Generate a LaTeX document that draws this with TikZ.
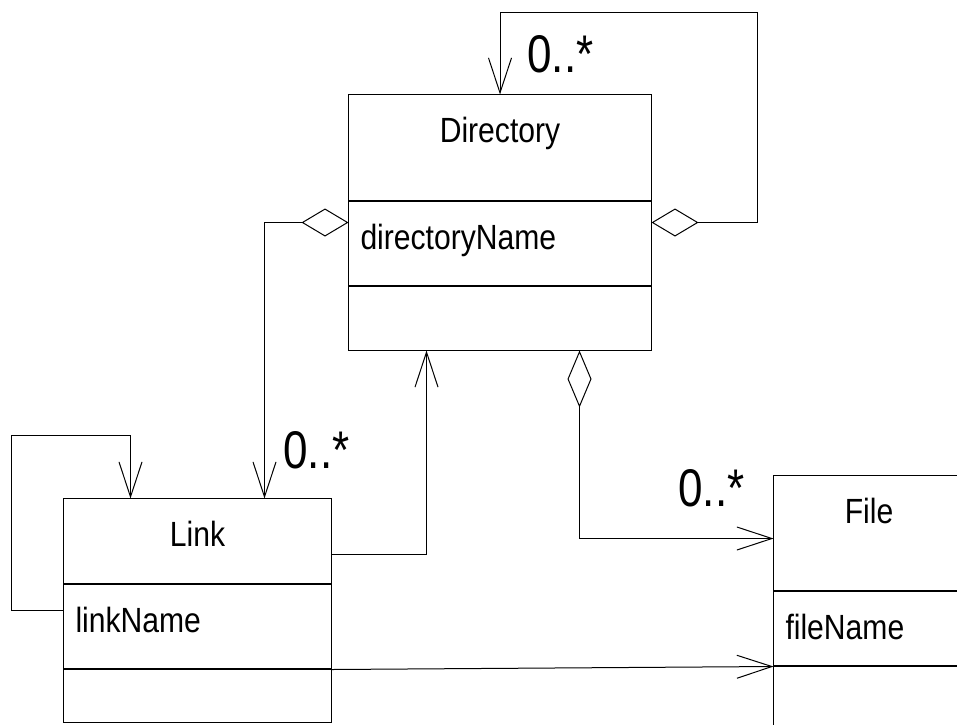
\documentclass[tikz,border=0pt]{standalone}
\usepackage{fontspec}
\setmainfont{Liberation Sans}[FakeStretch=0.86]
\newfontfamily\multfont{Liberation Sans}[FakeStretch=0.83]
\usetikzlibrary{arrows.meta,matrix}
\begin{document}
\begin{tikzpicture}[
  x=1pt, y=-1pt,
  line width=1pt,
  every matrix/.style={ampersand replacement=\&,row sep=0pt,inner sep=0pt,outer sep=0pt,anchor=north west},
  compartment/.style={draw,outer sep=0pt,inner xsep=12pt,inner ysep=0pt,text height=48pt,font=\fontsize{35}{42}\selectfont},
  head/.style={compartment,align=center,text depth=#1},
  attrs/.style={compartment,align=left,text depth=#1},
  ops/.style={compartment,text height=0pt,text depth=0pt,minimum height=#1},
  mult/.style={anchor=base west,inner sep=0pt,font=\multfont\fontsize{53}{60}\selectfont},
  assoc/.style={arrows={-Straight Barb[length=35pt,width=23pt]}},
  aggr/.style={arrows={Diamond[open,length=47pt,width=28pt]-Straight Barb[length=35pt,width=23pt]}},
  aggr down/.style={arrows={Diamond[open,length=57pt,width=24pt]-Straight Barb[length=35pt,width=23pt]}}]

\useasboundingbox (0,0) rectangle (957,724);

% The three classes, one matrix each
\matrix (directory) [nodes={text width=279pt}] at (348,94) {
    \node[head=58pt] (directoryHead) {Directory}; \\
    \node[attrs=36pt] (directoryAttrs) {directoryName}; \\
    \node[ops=64pt] (directoryOps) {}; \\
  };

\matrix (link) [nodes={text width=244pt}] at (63,498) {
    \node[head=37pt] (linkHead) {Link}; \\
    \node[attrs=36pt] (linkAttrs) {linkName}; \\
    \node[ops=53pt] (linkOps) {}; \\
  };

\matrix (file) [nodes={text width=167pt}] at (773,475) {
    \node[head=67pt] (fileHead) {File}; \\
    \node[attrs=26pt] (fileAttrs) {fileName}; \\
    \node[ops=80pt] (fileOps) {}; \\
  };

% Associations and aggregations
\draw [aggr] ([yshift=-21pt]directoryAttrs.north east) -| ([xshift=106pt,yshift=82pt]directoryHead.north east) -| (directoryHead.north);
\draw [aggr] ([yshift=-21pt]directoryAttrs.north west) -| ([xshift=-67pt]linkHead.north east);
\draw [aggr down] ([xshift=-72pt]directoryOps.south east) |- ([yshift=-63pt]fileHead.north west);
\draw [assoc] ([yshift=-26pt]linkAttrs.north west) -| ([xshift=-52pt,yshift=63pt]linkHead.north west) -| ([xshift=67pt]linkHead.north west);
\draw [assoc] ([yshift=-56pt]linkHead.north east) -| ([xshift=78pt]directoryOps.south west);
\draw [assoc] (linkOps.north east) -- (fileOps.north west);

% Multiplicities
\node[mult] (directoryMult) at (527,72) {0..*};
\node[mult] (linkMult) at (283,468) {0..*};
\node[mult] (fileMult) at (678,506) {0..*};
\end{tikzpicture}
\end{document}
